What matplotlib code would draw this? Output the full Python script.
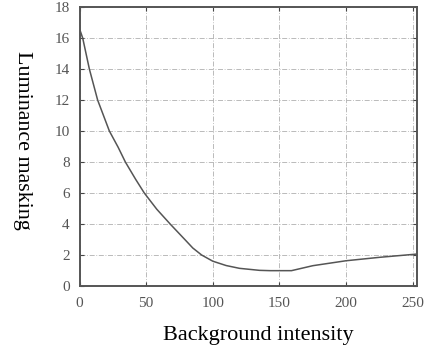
import matplotlib.pyplot as plt
import numpy as np

# values
bg = [0, 2.4, 7.4, 13.6, 22.4, 29, 34.4, 42, 48.6, 58, 68, 79, 85, 91.6,
      100, 110, 120, 135, 143, 159, 175, 200, 225, 253]
lum = [16.6, 16.0, 14.0, 12.0, 10.0, 8.95, 8.0, 6.9, 6.0, 4.95, 4.0, 3.0,
       2.45, 2.0, 1.6, 1.32, 1.14, 1.01, 0.99, 0.99, 1.31, 1.63, 1.85, 2.06]
xticks = [0, 50, 100, 150, 200, 250]
yticks = [0, 2, 4, 6, 8, 10, 12, 14, 16, 18]

plt.rcParams['font.family'] = ['Liberation Serif', 'DejaVu Serif']

fig = plt.figure(figsize=(4.24, 3.52), dpi=100)
ax = fig.add_axes([0.1875, 0.1875, 0.7955, 0.7925])
ax.plot(bg, lum, color='#555555', lw=1.1)

ax.set_xlim(0, 253)
ax.set_ylim(0, 18)
ax.set_xticks(xticks)
ax.set_yticks(yticks)
ax.tick_params(direction='in', length=3, width=0.8, top=True, right=True,
               labelsize=11, labelcolor='#555555', color='#444444')
ax.tick_params(axis='x', pad=8)
ax.tick_params(axis='y', pad=7)
ax.grid(True, color='#b0b0b0', linestyle=(0, (6, 2, 1, 2)), lw=0.6)
for s in ax.spines.values():
    s.set_color('#555555')
    s.set_linewidth(1.4)

fig.text(0.052, 0.602, 'Luminance masking', rotation=-90, ha='center',
         va='center', fontsize=15.8)
fig.text(0.61, 0.034, 'Background intensity', ha='center', va='baseline',
         fontsize=16)

fig.savefig('out.png', dpi=100)
